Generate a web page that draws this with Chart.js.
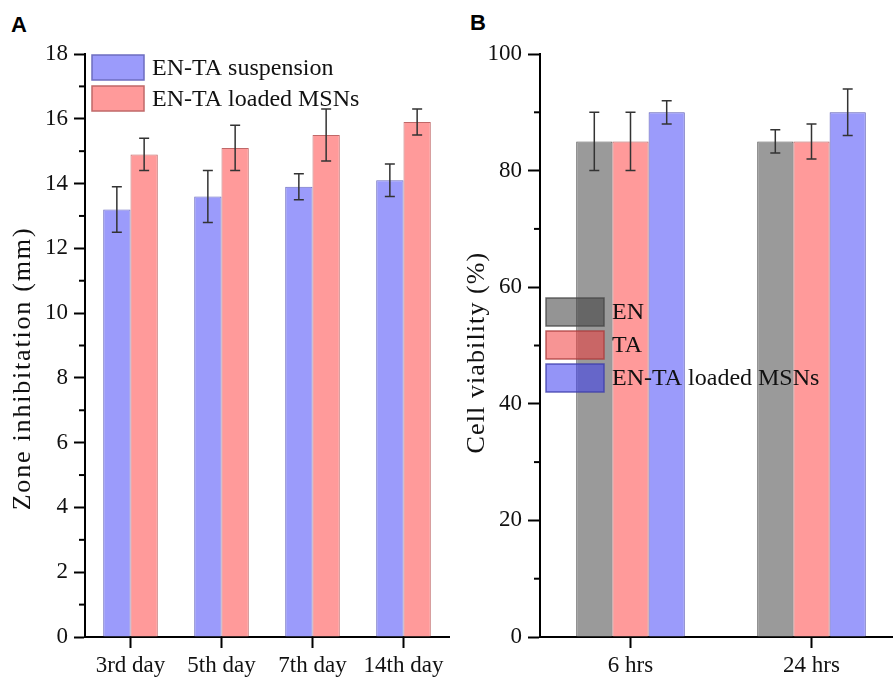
<!DOCTYPE html>
<html>
<head>
<meta charset="utf-8">
<script src="https://cdn.jsdelivr.net/npm/chart.js@4/dist/chart.umd.min.js"></script>
<style>
  html, body { margin: 0; padding: 0; width: 893px; height: 677px; overflow: hidden; background: #fff; }
  .panel { position: absolute; top: 0; height: 677px; }
  #wrapA { left: 0; width: 455px; }
  #wrapB { left: 440px; width: 462px; }
  .tag { position: absolute; font: bold 22px "Liberation Sans", Arial, sans-serif; color: #000; }
</style>
</head>
<body>
<div class="tag" style="left:11px;top:12px;">A</div>
<div class="tag" style="left:470px;top:10px;">B</div>
<div id="wrapA" class="panel"><canvas id="chartA"></canvas></div>
<div id="wrapB" class="panel"><canvas id="chartB"></canvas></div>
<script>
// Panel A data
const daysA = ['3rd day', '5th day', '7th day', '14th day'];
const suspension = [13.2, 13.6, 13.9, 14.1];
const suspensionErr = [0.7, 0.8, 0.4, 0.5];
const loaded = [14.9, 15.1, 15.5, 15.9];
const loadedErr = [0.5, 0.7, 0.8, 0.4];

// Panel B data
const hoursB = ['6 hrs', '24 hrs'];
const enValues = [85, 85];
const enErr = [5, 2];
const taValues = [85, 85];
const taErr = [5, 3];
const msnValues = [90, 90];
const msnErr = [2, 4];

const SERIF = '"Liberation Serif", "Times New Roman", serif';
const BLUE = '#9b9bfb', RED = '#ff9a9a', GREY = '#9a9a9a';

// error bars, minor ticks, axis title and in-plot legend
const extras = {
  id: 'extras',
  afterDatasetsDraw(chart, args, opts) {
    const { ctx } = chart;
    const y = chart.scales.y;
    ctx.save();
    ctx.strokeStyle = '#333';
    ctx.lineWidth = 1.5;
    chart.data.datasets.forEach((ds, i) => {
      const meta = chart.getDatasetMeta(i);
      meta.data.forEach((bar, j) => {
        const v = ds.data[j], e = ds.errors[j];
        const yHi = y.getPixelForValue(v + e), yLo = y.getPixelForValue(v - e);
        ctx.beginPath();
        ctx.moveTo(bar.x, yHi); ctx.lineTo(bar.x, yLo);
        ctx.moveTo(bar.x - 5, yHi); ctx.lineTo(bar.x + 5, yHi);
        ctx.moveTo(bar.x - 5, yLo); ctx.lineTo(bar.x + 5, yLo);
        ctx.stroke();
      });
    });
    ctx.restore();
  },
  afterDraw(chart, args, opts) {
    const { ctx, chartArea } = chart;
    const y = chart.scales.y;
    // minor ticks halfway between major ticks
    ctx.save();
    ctx.strokeStyle = '#000';
    ctx.lineWidth = 2;
    const t = y.ticks;
    for (let k = 0; k < t.length - 1; k++) {
      const py = y.getPixelForValue((t[k].value + t[k + 1].value) / 2);
      ctx.beginPath();
      ctx.moveTo(chartArea.left - 6, py);
      ctx.lineTo(chartArea.left, py);
      ctx.stroke();
    }
    ctx.restore();

    // y axis title, drawn by hand for the wide letter spacing
    const T = opts.title;
    ctx.save();
    ctx.translate(T.x, (chartArea.top + chartArea.bottom) / 2 + T.dy);
    ctx.rotate(-Math.PI / 2);
    ctx.font = '26px ' + SERIF;
    ctx.letterSpacing = T.spacing;
    ctx.fillStyle = '#111';
    ctx.textAlign = 'center';
    ctx.textBaseline = 'middle';
    ctx.fillText(T.text, 0, 0);
    ctx.restore();

    // legend
    const L = opts.legend;
    ctx.save();
    ctx.font = '24px ' + SERIF;
    ctx.textBaseline = 'middle';
    ctx.textAlign = 'left';
    chart.data.datasets.forEach((ds, i) => {
      const bx = chartArea.left + L.dx, by = chartArea.top + L.dy + i * L.gap;
      ctx.fillStyle = L.fills[i];
      ctx.fillRect(bx, by, L.w, L.h);
      ctx.strokeStyle = L.strokes[i];
      ctx.lineWidth = 1.5;
      ctx.strokeRect(bx, by, L.w, L.h);
      ctx.fillStyle = '#111';
      ctx.fillText(ds.label, bx + L.w + 8, by + L.h / 2 + 1);
    });
    ctx.restore();
  }
};

function makeOptions(yMax, yStep, yWidth, tickLen, legend, title) {
  return {
    responsive: true,
    maintainAspectRatio: false,
    animation: false,
    layout: { padding: { top: 54, bottom: 0, left: 0, right: legend.right } },
    plugins: { legend: { display: false }, tooltip: { enabled: false }, extras: { legend, title } },
    scales: {
      x: {
        grid: { display: true, offset: false, drawOnChartArea: false, drawTicks: true, tickLength: 11, tickWidth: 2, tickColor: '#000' },
        border: { display: true, color: '#000', width: 2 },
        ticks: { color: '#111', font: { family: SERIF, size: 23 }, padding: 4, maxRotation: 0 },
        afterFit(s) { s.height = 40; }
      },
      y: {
        min: 0, max: yMax,
        grid: { display: true, drawOnChartArea: false, drawTicks: true, tickLength: tickLen, tickWidth: 2, tickColor: '#000' },
        border: { display: true, color: '#000', width: 2 },
        ticks: { stepSize: yStep, color: '#111', font: { family: SERIF, size: 23 }, padding: 6 },
        afterFit(s) { s.width = yWidth; }
      }
    }
  };
}

new Chart(document.getElementById('chartA'), {
  type: 'bar',
  data: {
    labels: daysA,
    datasets: [
      { label: 'EN-TA suspension', data: suspension, errors: suspensionErr, backgroundColor: BLUE, borderColor: '#6d6dc0', borderWidth: 1, categoryPercentage: 0.6, barPercentage: 1 },
      { label: 'EN-TA loaded MSNs', data: loaded, errors: loadedErr, backgroundColor: RED, borderColor: '#c06868', borderWidth: 1, categoryPercentage: 0.6, barPercentage: 1 }
    ]
  },
  options: makeOptions(18, 2, 85, 11,
    { right: 6, dx: 7, dy: 1, gap: 31, w: 52, h: 25, fills: [BLUE, RED], strokes: ['#6d6dc0', '#c06868'] },
    { text: 'Zone inhibitation (mm)', x: 23, dy: 23, spacing: '1.8px' }),
  plugins: [extras]
});

new Chart(document.getElementById('chartB'), {
  type: 'bar',
  data: {
    labels: hoursB,
    datasets: [
      { label: 'EN', data: enValues, errors: enErr, backgroundColor: GREY, borderColor: '#555', borderWidth: 1, categoryPercentage: 0.6, barPercentage: 1 },
      { label: 'TA', data: taValues, errors: taErr, backgroundColor: RED, borderColor: '#b05a5a', borderWidth: 1, categoryPercentage: 0.6, barPercentage: 1 },
      { label: 'EN-TA loaded MSNs', data: msnValues, errors: msnErr, backgroundColor: BLUE, borderColor: '#5a5ab5', borderWidth: 1, categoryPercentage: 0.6, barPercentage: 1 }
    ]
  },
  options: makeOptions(100, 20, 100, 12,
    { right: 0, dx: 6, dy: 244, gap: 33, w: 58, h: 28,
      fills: ['rgba(60,60,60,0.55)', 'rgba(240,60,60,0.55)', 'rgba(60,60,240,0.55)'],
      strokes: ['rgba(70,70,70,0.8)', 'rgba(170,60,60,0.8)', 'rgba(60,60,170,0.8)'] },
    { text: 'Cell viability (%)', x: 37, dy: 7, spacing: '1.1px' }),
  plugins: [extras]
});
</script>
</body>
</html>
